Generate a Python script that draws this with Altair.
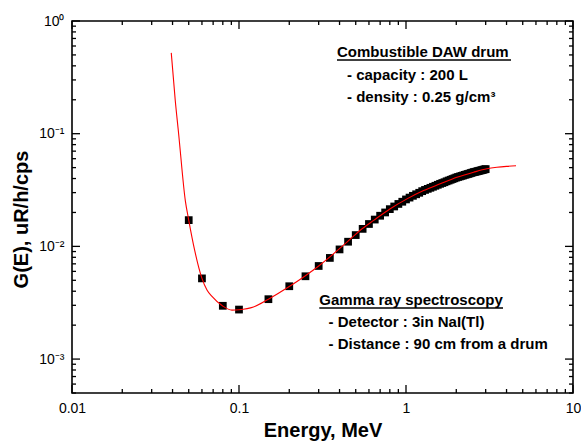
import altair as alt
import pandas as pd

# ---------------- data ----------------
energy_pts = [0.05, 0.06, 0.08, 0.1, 0.15, 0.2, 0.25, 0.3, 0.35, 0.4, 0.45, 0.5,
              0.55, 0.6, 0.65, 0.7, 0.75, 0.8, 0.85, 0.9, 0.95, 1.0, 1.05, 1.1,
              1.15, 1.2, 1.25, 1.3, 1.35, 1.4, 1.45, 1.5, 1.55, 1.6, 1.65, 1.7,
              1.75, 1.8, 1.85, 1.9, 1.95, 2.0, 2.05, 2.1, 2.15, 2.2, 2.25, 2.3,
              2.35, 2.4, 2.45, 2.5, 2.55, 2.6, 2.65, 2.7, 2.75, 2.8, 2.85, 2.9,
              2.95, 3.0]
g_pts = [0.0171, 0.0052, 0.00297, 0.00275, 0.0034, 0.00443, 0.00543, 0.0067,
         0.0079, 0.0094, 0.0110, 0.0126, 0.0143, 0.0158, 0.0173, 0.0187, 0.0200,
         0.0214, 0.0226, 0.0238, 0.0249, 0.0261, 0.0271, 0.0281, 0.0290, 0.0299,
         0.0309, 0.0317, 0.0324, 0.0331, 0.0338, 0.0345, 0.0352, 0.0359, 0.0365,
         0.0371, 0.0378, 0.0384, 0.0390, 0.0396, 0.0402, 0.0408, 0.0413, 0.0417,
         0.0422, 0.0426, 0.0431, 0.0435, 0.0439, 0.0443, 0.0448, 0.0452, 0.0456,
         0.0459, 0.0462, 0.0466, 0.0469, 0.0472, 0.0475, 0.0479, 0.0482, 0.0485]

fit_energy = [0.0393, 0.0415, 0.0435, 0.0477, 0.05, 0.0542, 0.06, 0.0643, 0.0689,
              0.0798, 0.0908, 0.1, 0.122, 0.15, 0.2, 0.3, 0.443, 0.532, 0.64,
              0.805, 1.014, 1.274, 1.603, 2.018, 2.54, 3.05, 3.5, 4.0, 4.56]
fit_g = [0.521, 0.199, 0.1, 0.0255, 0.0171, 0.0093, 0.0052, 0.0041, 0.0036,
         0.00296, 0.00272, 0.00274, 0.0029, 0.0034, 0.0044, 0.0067, 0.0109,
         0.0139, 0.0170, 0.0216, 0.0264, 0.0313, 0.0359, 0.041, 0.0455, 0.0488,
         0.0503, 0.0513, 0.052]

x_major = [0.01, 0.1, 1, 10]
x_minor = [0.02, 0.03, 0.04, 0.05, 0.06, 0.07, 0.08, 0.09,
           0.2, 0.3, 0.4, 0.5, 0.6, 0.7, 0.8, 0.9,
           2, 3, 4, 5, 6, 7, 8, 9]
y_major = [0.001, 0.01, 0.1, 1]
y_minor = [0.0005, 0.0006, 0.0007, 0.0008, 0.0009,
           0.002, 0.003, 0.004, 0.005, 0.006, 0.007, 0.008, 0.009,
           0.02, 0.03, 0.04, 0.05, 0.06, 0.07, 0.08, 0.09,
           0.2, 0.3, 0.4, 0.5, 0.6, 0.7, 0.8, 0.9]

annotation_lines = ["Combustible DAW drum", "- capacity : 200 L", "- density : 0.25 g/cm\u00b3",
                    "Gamma ray spectroscopy", "- Detector : 3in NaI(Tl)",
                    "- Distance : 90 cm from a drum"]

# ---------------- layout ----------------
W, H = 501, 372
FONT = "Liberation Sans"
MAJ, MIN = 8, 4

xs = alt.Scale(type="log", domain=[0.01, 10])
ys = alt.Scale(type="log", domain=[0.0005, 1])

df_pts = pd.DataFrame({"E": energy_pts, "G": g_pts})
df_fit = pd.DataFrame({"E": fit_energy, "G": fit_g})
one = pd.DataFrame({"k": [0]})

x_axis = alt.Axis(values=x_major, format="~g", title="Energy, MeV", grid=False,
                  ticks=False, domain=False, labelPadding=8,
                  labelFlush=False, labelOverlap=False,
                  titleY=43.5, titleBaseline="alphabetic")
y_axis = alt.Axis(values=y_major, title="G(E), uR/h/cps", grid=False,
                  ticks=False, domain=False, labelPadding=8,
                  labelFlush=False, labelOverlap=False,
                  labelExpr="'10' + (datum.value == 1 ? '\u2070' : datum.value == 0.1 ? '\u207b\u00b9' : datum.value == 0.01 ? '\u207b\u00b2' : '\u207b\u00b3')",
                  titleX=-51, titleY=198, titleBaseline="middle", titleAlign="center")

X = alt.X("E:Q", scale=xs, axis=x_axis, title="Energy, MeV")
Y = alt.Y("G:Q", scale=ys, axis=y_axis, title="G(E), uR/h/cps")

points = alt.Chart(df_pts).mark_square(size=60, color="black", opacity=1).encode(x=X, y=Y)

fit = alt.Chart(df_fit).mark_line(color="#ff0000", strokeWidth=1.1,
                                  interpolate="monotone").encode(x=X, y=Y)


def xticks(vals, length):
    d = pd.DataFrame({"E": vals})
    bottom = alt.Chart(d).mark_rule(color="black", strokeWidth=1.3).encode(
        x=X, y=alt.value(H), y2=alt.value(H - length))
    top = alt.Chart(d).mark_rule(color="black", strokeWidth=1.3).encode(
        x=X, y=alt.value(0), y2=alt.value(length))
    return [bottom, top]


def yticks(vals, length):
    d = pd.DataFrame({"G": vals})
    left = alt.Chart(d).mark_rule(color="black", strokeWidth=1.3).encode(
        y=Y, x=alt.value(0), x2=alt.value(length))
    right = alt.Chart(d).mark_rule(color="black", strokeWidth=1.3).encode(
        y=Y, x=alt.value(W), x2=alt.value(W - length))
    return [left, right]


ticks = xticks(x_major, MAJ) + xticks(x_minor, MIN) + yticks(y_major, MAJ) + yticks(y_minor, MIN)


def label(text, x, y):
    return alt.Chart(one).mark_text(align="left", baseline="alphabetic", font=FONT,
                                    fontSize=15, fontWeight="bold", color="black").encode(
        x=alt.value(x), y=alt.value(y), text=alt.value(text))


def underline(x1, x2, y):
    return alt.Chart(one).mark_rule(color="black", strokeWidth=1.3).encode(
        x=alt.value(x1), x2=alt.value(x2), y=alt.value(y))


notes = [
    label(annotation_lines[0], 265, 36), underline(265, 439, 39),
    label(annotation_lines[1], 275, 58.6),
    label(annotation_lines[2], 275, 81),
    label(annotation_lines[3], 247.3, 283.6), underline(247.3, 431, 287),
    label(annotation_lines[4], 256.6, 306),
    label(annotation_lines[5], 256.6, 327.6),
]

chart = alt.layer(points, fit, *ticks, *notes).properties(
    width=W, height=H,
    padding={"left": 72, "top": 21, "right": 8, "bottom": 53},
    autosize=alt.AutoSizeParams(type="none"),
    background="white",
).configure_view(
    stroke="black", strokeWidth=1.6
).configure_axis(
    labelFont=FONT, labelFontSize=14, labelColor="black",
    titleFont=FONT, titleFontSize=20, titleFontWeight="bold", titleColor="black",
)

chart.save("out.html", embed_options={"renderer": "svg", "actions": False})
